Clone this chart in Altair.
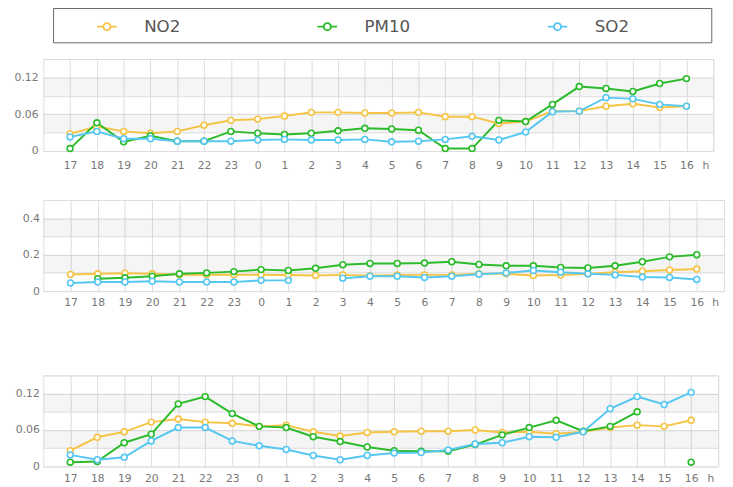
import altair as alt
import pandas as pd

HOURS = ["17", "18", "19", "20", "21", "22", "23", "0", "1", "2", "3", "4",
         "5", "6", "7", "8", "9", "10", "11", "12", "13", "14", "15", "16"]
X_LABELS = HOURS + ["h"]
SERIES = ["NO2", "PM10", "SO2"]
COLORS = ["#F5C445", "#2BBB2B", "#56C7F1"]

# Panel 1
P1_NO2 = [0.028, 0.040, 0.032, 0.029, 0.032, 0.042, 0.050, 0.052, 0.057, 0.063, 0.063, 0.062,
          0.062, 0.063, 0.056, 0.056, 0.045, 0.048, 0.065, 0.065, 0.073, 0.077, 0.071, 0.073]
P1_PM10 = [0.004, 0.046, 0.015, 0.025, 0.016, 0.016, 0.032, 0.029, 0.027, 0.029, 0.033, 0.037,
           0.036, 0.034, 0.004, 0.004, 0.050, 0.048, 0.076, 0.105, 0.102, 0.097, 0.110, 0.118]
P1_SO2 = [0.023, 0.032, 0.020, 0.020, 0.016, 0.016, 0.016, 0.018, 0.019, 0.018, 0.018, 0.019,
          0.015, 0.016, 0.019, 0.024, 0.018, 0.031, 0.064, 0.065, 0.087, 0.085, 0.076, 0.073]
P1_GRID = [0, 0.03, 0.06, 0.09, 0.12, 0.15]
P1_LABELS = ["0", "", "0.06", "", "0.12", ""]

# Panel 2
P2_NO2 = [0.091, 0.095, 0.098, 0.095, 0.090, 0.090, 0.090, 0.090, 0.088, 0.086, 0.089, 0.085,
          0.089, 0.089, 0.089, 0.095, 0.095, 0.086, 0.088, 0.095, 0.104, 0.109, 0.116, 0.121]
P2_PM10 = [None, 0.068, 0.073, 0.082, 0.095, 0.100, 0.107, 0.118, 0.113, 0.125, 0.145, 0.152,
           0.152, 0.154, 0.161, 0.146, 0.139, 0.139, 0.130, 0.127, 0.139, 0.161, 0.188, 0.200]
P2_SO2 = [0.045, 0.050, 0.050, 0.054, 0.050, 0.050, 0.050, 0.059, 0.059, None, 0.071, 0.082,
          0.082, 0.075, 0.082, 0.093, 0.100, 0.113, 0.104, 0.095, 0.089, 0.077, 0.075, 0.064]
P2_GRID = [0, 0.1, 0.2, 0.3, 0.4, 0.5]
P2_LABELS = ["0", "", "0.2", "", "0.4", ""]

# Panel 3
P3_NO2 = [0.026, 0.048, 0.057, 0.073, 0.078, 0.073, 0.071, 0.066, 0.068, 0.057, 0.050, 0.056,
          0.057, 0.058, 0.058, 0.060, 0.056, 0.057, 0.054, 0.057, 0.064, 0.068, 0.066, 0.076]
P3_PM10 = [0.007, 0.008, 0.039, 0.053, 0.103, 0.115, 0.087, 0.066, 0.064, 0.049, 0.041, 0.032,
           0.026, 0.025, 0.025, 0.036, 0.052, 0.064, 0.076, 0.058, 0.066, 0.090, None, 0.007]
P3_SO2 = [0.019, 0.011, 0.015, 0.042, 0.064, 0.064, 0.042, 0.034, 0.028, 0.018, 0.011, 0.018,
          0.022, 0.023, 0.027, 0.037, 0.039, 0.049, 0.048, 0.057, 0.095, 0.115, 0.102, 0.122]
P3_GRID = P1_GRID
P3_LABELS = P1_LABELS

FONT = "DejaVu Sans"
NBSP = "\u00a0"
ZWSP = "\u200b"
LEGEND_SYMBOL = ("M-1,0L-0.36,0M0.36,0L1,0"
                 "M0.36,0A0.36,0.36,0,1,1,-0.36,0A0.36,0.36,0,1,1,0.36,0")

legend = alt.Legend(
    orient="none", legendX=10, legendY=-52, direction="horizontal", columns=3,
    title=NBSP, titleOrient="left", titlePadding=36, titleFontSize=1, titleFont=FONT,
    titleBaseline="top",
    symbolType=LEGEND_SYMBOL, symbolSize=400, symbolStrokeWidth=2,
    symbolFillColor="white",
    labelFont=FONT, labelFontSize=17, labelColor="#555555", labelOffset=27,
    labelLimit=400, columnPadding=136, gridAlign="each", padding=8,
    strokeColor="#666666", fillColor="white",
    labelExpr="datum.label == 'SO2' ? 'SO2" + NBSP * 14 + ZWSP + "' : datum.label",
)


def make_long(values):
    rows = []
    for name, arr in zip(SERIES, values):
        seg = 0
        for i, v in enumerate(arr):
            if v is None:
                seg += 1
                continue
            rows.append({"series": name, "idx": i, "value": v, "seg": f"{name}-{seg}"})
    return pd.DataFrame(rows)


def panel(values, grid, labels, width, height, label_pad_x, h_offset, min_ext, label_pad_y):
    df = make_long(values)
    step = grid[1] - grid[0]
    bands = pd.DataFrame({"y": [grid[1], grid[3]], "y2": [grid[2], grid[4]]})
    lab_arr = "[" + ",".join(f"'{t}'" for t in labels) + "]"
    x_arr = "[" + ",".join(f"'{t}'" for t in X_LABELS) + "]"

    x_scale = alt.Scale(domain=[-1, len(HOURS)], nice=False, zero=False)
    y_scale = alt.Scale(domain=[grid[0], grid[-1]], nice=False)

    x_axis = alt.Axis(
        values=list(range(len(X_LABELS))), labelExpr=f"{x_arr}[datum.value]",
        title=None, ticks=False, domain=False, grid=True, gridColor="#dddddd",
        labelFont=FONT, labelFontSize=11, labelColor="#777777",
        labelPadding=label_pad_x, labelOverlap=False, labelFlush=False,
        labelOffset={"condition": {"test": f"datum.value == {len(HOURS)}", "value": h_offset},
                     "value": 0},
    )
    y_axis = alt.Axis(
        values=grid, labelExpr=f"{lab_arr}[round(datum.value / {step})]",
        title=None, ticks=False, domain=False, grid=True, gridColor="#dddddd",
        labelFont=FONT, labelFontSize=11, labelColor="#777777",
        labelPadding=label_pad_y, minExtent=min_ext, labelOverlap=False, labelFlush=False,
    )

    band_layer = alt.Chart(bands).mark_rect(color="#000000", opacity=0.04).encode(
        y=alt.Y("y:Q", scale=y_scale, axis=y_axis),
        y2="y2:Q",
    )
    stroke = alt.Stroke("series:N", scale=alt.Scale(domain=SERIES, range=COLORS),
                        legend=legend)
    lines = alt.Chart(df).mark_line(strokeWidth=2).encode(
        x=alt.X("idx:Q", scale=x_scale, axis=x_axis),
        y=alt.Y("value:Q", scale=y_scale, axis=y_axis),
        stroke=stroke,
        detail="seg:N",
        order="idx:Q",
    )
    points = alt.Chart(df).mark_point(filled=True, size=36, strokeWidth=1.6, opacity=1).encode(
        x=alt.X("idx:Q", scale=x_scale, axis=x_axis),
        y=alt.Y("value:Q", scale=y_scale, axis=y_axis),
        stroke=stroke,
        fill=alt.value("white"),
    )
    return alt.layer(band_layer, lines, points).properties(width=width, height=height)


p1 = panel([P1_NO2, P1_PM10, P1_SO2], P1_GRID, P1_LABELS, 684, 94, 8.5, -8, 35, 5.3)
p2 = panel([P2_NO2, P2_PM10, P2_SO2], P2_GRID, P2_LABELS, 695, 93, 5.5, -9, 29, 4)
p3 = panel([P3_NO2, P3_PM10, P3_SO2], P3_GRID, P3_LABELS, 689, 93, 6, -8, 29, 4)

inner = alt.concat(p1, p2, columns=1, spacing=23, align="none")
chart = alt.concat(inner, p3, columns=1, spacing=62, align="none").properties(
    padding={"left": 0, "top": -6, "right": 0, "bottom": 0}
).configure_view(stroke="#dddddd").configure(background="white")

chart.save("out.html", embed_options={"renderer": "svg", "actions": False})
